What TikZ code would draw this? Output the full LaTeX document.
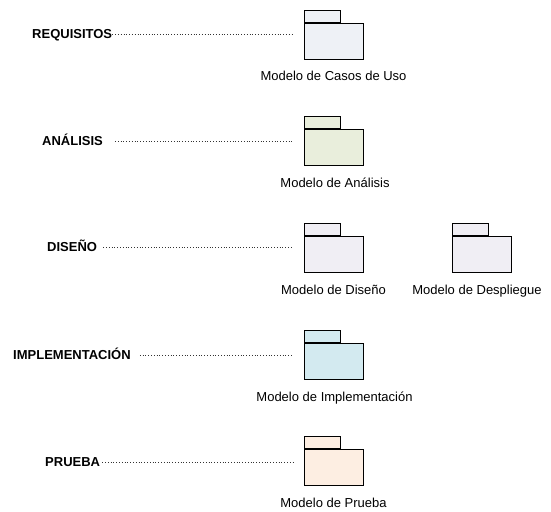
\documentclass[tikz,border=0pt]{standalone}
\usepackage{fontspec}
\setmainfont{Liberation Sans}
\begin{document}
\begin{tikzpicture}[x=1pt,y=-1pt,
  pkgbody/.style={draw=black, line width=0.9pt, minimum width=59pt, minimum height=36pt, inner sep=0pt, anchor=north west},
  pkgtab/.style={draw=black, line width=0.9pt, minimum width=36pt, minimum height=12pt, inner sep=0pt, anchor=south west},
  phase/.style={font=\fontsize{13}{15}\selectfont\bfseries, inner sep=0pt, text height=9.4pt, text depth=0pt, anchor=west},
  model/.style={font=\fontsize{13}{15}\selectfont, inner sep=0pt, anchor=base},
  link/.style={dotted, line width=0.8pt, black!80}
]
\useasboundingbox (0,0) rectangle (551,511);
\definecolor{cUso}{HTML}{EEF1F6}
\definecolor{cAna}{HTML}{E9EEDC}
\definecolor{cDis}{HTML}{F0EEF4}
\definecolor{cImp}{HTML}{D3EAF0}
\definecolor{cPru}{HTML}{FDEEE2}

% packages
\node[pkgbody, fill=cUso] (uso) at (304,23) {};
\node[pkgtab, fill=cUso] (usotab) at (uso.north west) {};
\node[pkgbody, fill=cAna] (ana) at (304,129) {};
\node[pkgtab, fill=cAna] (anatab) at (ana.north west) {};
\node[pkgbody, fill=cDis] (dis) at (304,236) {};
\node[pkgtab, fill=cDis] (distab) at (dis.north west) {};
\node[pkgbody, fill=cDis] (des) at (452,236) {};
\node[pkgtab, fill=cDis] (destab) at (des.north west) {};
\node[pkgbody, fill=cImp] (imp) at (304,343) {};
\node[pkgtab, fill=cImp] (imptab) at (imp.north west) {};
\node[pkgbody, fill=cPru] (pru) at (304,449) {};
\node[pkgtab, fill=cPru] (prutab) at (pru.north west) {};

% model labels
\node[model] (luso) at (333.5,81) {Modelo de Casos de Uso};
\node[model] (lana) at (335,187) {Modelo de Análisis};
\node[model] (ldis) at (333.5,294) {Modelo de Diseño};
\node[model] (ldes) at (477,294) {Modelo de Despliegue};
\node[model] (limp) at (334.5,401) {Modelo de Implementación};
\node[model] (lpru) at (333.5,507) {Modelo de Prueba};

% phases
\node[phase] (req) at (32,34) {REQUISITOS};
\node[phase] (anl) at (42,141) {ANÁLISIS};
\node[phase] (dsn) at (47,247) {DISEÑO};
\node[phase] (imq) at (13,355) {IMPLEMENTACIÓN};
\node[phase] (prb) at (45,462) {PRUEBA};

% connectors
\draw[link, shorten >=11pt] (req.east) -- (req.east -| uso.west);
\draw[link, shorten <=12pt, shorten >=11pt] (anl.east) -- (anl.east -| ana.west);
\draw[link, shorten <=6pt, shorten >=11pt] (dsn.east) -- (dsn.east -| dis.west);
\draw[link, shorten <=9pt, shorten >=11pt] (imq.east) -- (imq.east -| imp.west);
\draw[link, shorten <=2pt, shorten >=11pt] (prb.east) -- (prb.east -| pru.west);
\end{tikzpicture}
\end{document}
